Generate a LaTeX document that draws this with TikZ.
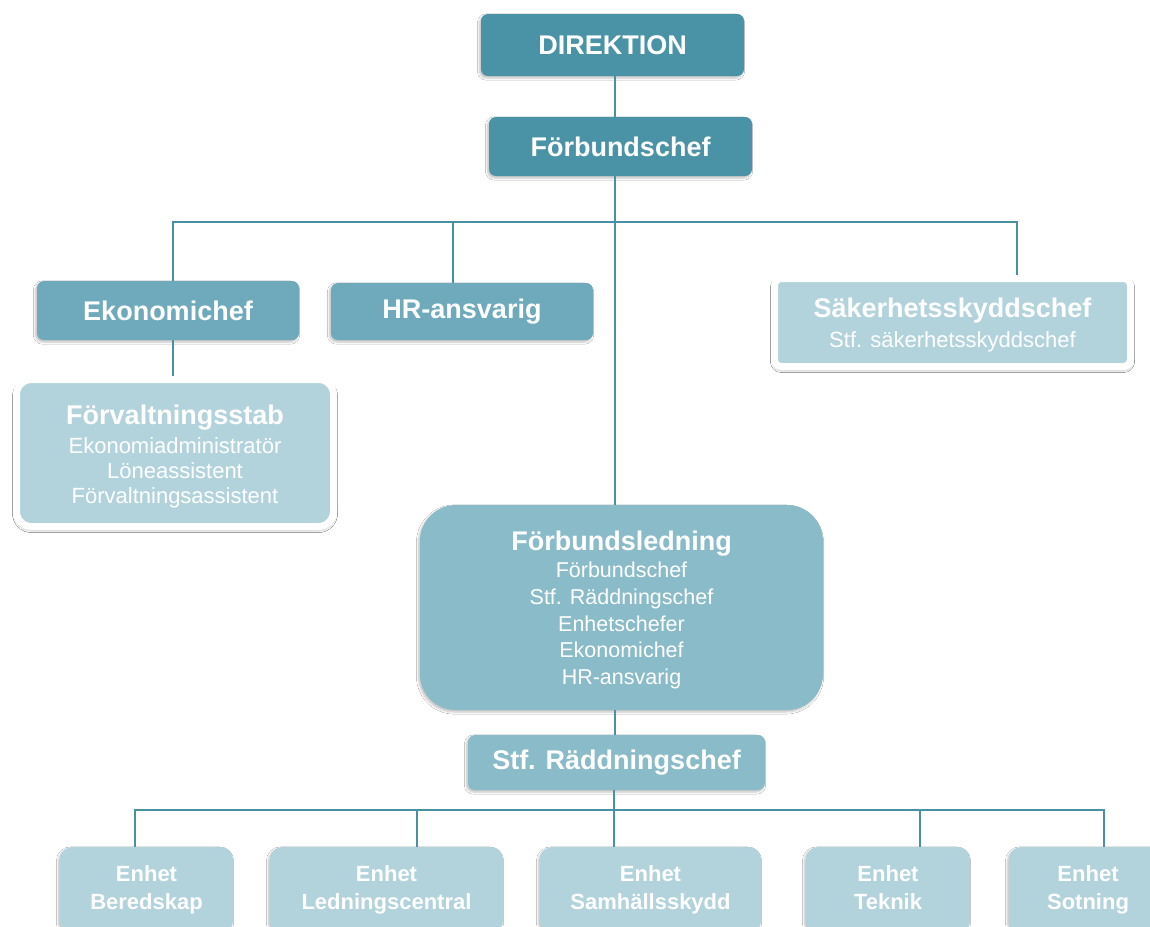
\documentclass[tikz,border=0pt]{standalone}
\usepackage{fontspec}
\setmainfont{Liberation Sans}
\usetikzlibrary{shadows.blur}
\definecolor{cdark}{RGB}{74,147,167}
\definecolor{cmed}{RGB}{110,170,187}
\definecolor{clm}{RGB}{138,187,201}
\definecolor{clight}{RGB}{178,211,220}
\definecolor{cline}{RGB}{72,145,165}
\tikzset{
  box/.style={rounded corners=7pt, text=white, align=center, inner sep=0pt,
    blur shadow={shadow xshift=-1.5pt, shadow yshift=-2pt, shadow blur steps=5, shadow opacity=25}},
  titlefont/.style={font=\bfseries\fontsize{27}{30}\selectfont},
  darkbox/.style={box, fill=cdark, titlefont},
  medbox/.style={box, fill=cmed, titlefont},
  lmbox/.style={box, fill=clm},
  framed/.style={box, fill=clight, draw=white, line width=7pt,
    blur shadow={shadow xshift=0pt, shadow yshift=-2pt, shadow blur steps=6, shadow opacity=30, shadow blur radius=4pt}},
  unit/.style={box, fill=clight, rounded corners=12pt, font=\bfseries\fontsize{22}{28}\selectfont},
  conn/.style={draw=cline, line width=2.4pt}
}
\newcommand{\ttl}[2]{{\bfseries\fontsize{27}{30}\selectfont #1\rule{0pt}{#2}}}
\begin{document}
\begin{tikzpicture}[x=1pt,y=-1pt]
\useasboundingbox[fill=white] (0,0) rectangle (1150,926);
% coordinates for connector lines
\coordinate (trunk) at (615,0);
\coordinate (busL) at (173,222);
\coordinate (busH) at (453,222);
\coordinate (busR) at (1017,222);
% nodes
\node[darkbox, minimum width=263pt, minimum height=62pt] (dir) at (612.5,45) {DIREKTION};
\node[darkbox, minimum width=263pt, minimum height=59pt] (fc) at (620.5,146.5) {Förbundschef};
\node[medbox, minimum width=262pt, minimum height=59pt] (eko) at (168,310.5) {Ekonomichef};
\node[medbox, minimum width=262pt, minimum height=57pt] (hr) at (462,311.5) {HR-ansvarig};
\node[framed, minimum width=356pt, minimum height=88pt, font=\fontsize{22}{30}\selectfont] (sak) at (952.5,322.5)
  {\ttl{Säkerhetsskyddschef}{25pt}\\Stf. säkerhetsskyddschef};
\node[framed, rounded corners=15pt, minimum width=317pt, minimum height=147pt, font=\fontsize{22}{25}\selectfont] (fs) at (175,453)
  {\ttl{Förvaltningsstab}{27pt}\\[4pt]Ekonomiadministratör\\Löneassistent\\Förvaltningsassistent};
\node[lmbox, rounded corners=36pt, minimum width=403pt, minimum height=205pt, font=\fontsize{21.5}{26.8}\selectfont] (fl) at (621.5,607.5)
  {\ttl{Förbundsledning}{25pt}\\Förbundschef\\Stf. Räddningschef\\Enhetschefer\\Ekonomichef\\HR-ansvarig};
\node[lmbox, minimum width=297pt, minimum height=55pt, titlefont] (stf) at (616.5,762.5) {Stf. Räddningschef};
\node[unit, minimum width=173pt, minimum height=86pt] (u1) at (146.5,890) {Enhet\\Beredskap};
\node[unit, minimum width=233pt, minimum height=86pt] (u2) at (386.5,890) {Enhet\\Ledningscentral};
\node[unit, minimum width=221pt, minimum height=86pt] (u3) at (650.5,890) {Enhet\\Samhällsskydd};
\node[unit, minimum width=164pt, minimum height=86pt] (u4) at (888,890) {Enhet\\Teknik\vphantom{g}};
\node[unit, minimum width=158pt, minimum height=86pt] (u5) at (1088,890) {Enhet\\Sotning};
% connectors
\draw[conn] (dir.south -| trunk) -- (fc.north -| trunk);
\draw[conn] (fc.south -| trunk) -- (fl.north -| trunk);
\draw[conn] (eko.north -| busL) -- (busL) -- (busR) -- (sak.north -| busR);
\draw[conn] (busH) -- (hr.north -| busH);
\draw[conn] (eko.south -| busL) -- (fs.north -| busL);
\draw[conn] (fl.south -| trunk) -- (stf.north -| trunk);
\coordinate (b0) at (614,810);
\draw[conn] (stf.south -| b0) -- (b0);
\coordinate (b1) at (135,810);
\coordinate (b2) at (417,810);
\coordinate (b4) at (920,810);
\coordinate (b5) at (1104,810);
\draw[conn] (u1.north -| b1) -- (b1) -- (b5) -- (u5.north -| b5);
\draw[conn] (b2) -- (u2.north -| b2);
\draw[conn] (b0) -- (u3.north -| b0);
\draw[conn] (b4) -- (u4.north -| b4);
\end{tikzpicture}
\end{document}
